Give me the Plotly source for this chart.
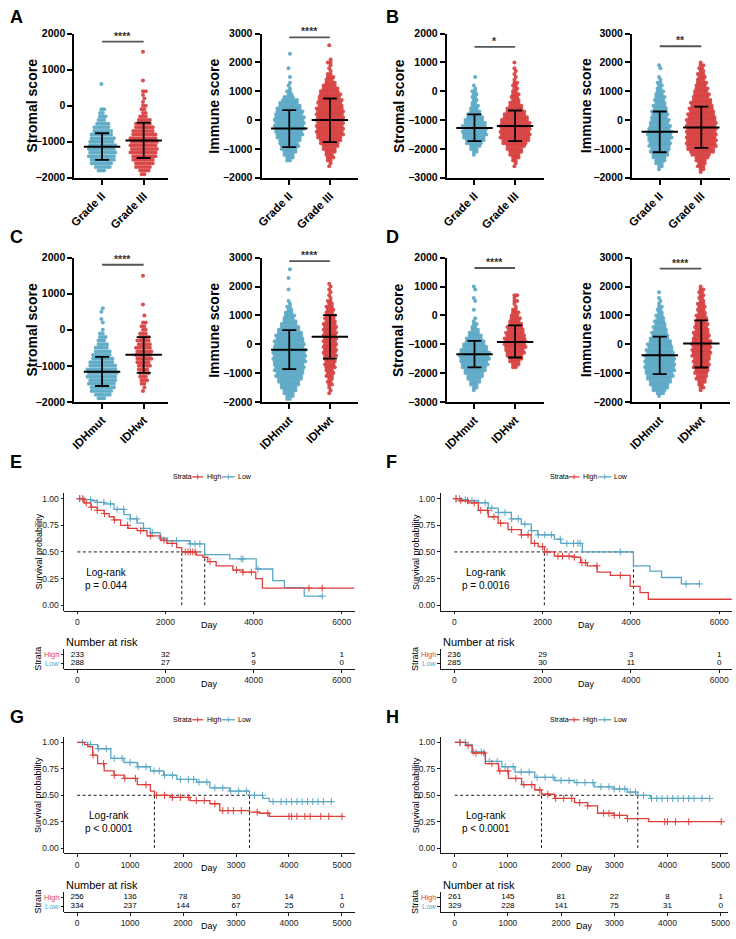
import plotly.graph_objects as go

W, H = 736, 939
FONT = "Liberation Sans"
BLUE = "#58A6C4"
RED = "#D63B3B"
KM_RED = "#DE3F3A"
KM_BLUE = "#5AA7C6"
BIN = 100          # value width of one dot row in the scatter-dot panels

# ---------------- scatter-dot panels (counts of dots per 100-unit bin) ----------------
grade_labels = ["Grade II", "Grade III"]
idh_labels = ["IDHmut", "IDHwt"]

A_stromal_g1_from = -1800
A_stromal_g1 = [3, 6, 8, 9, 10, 10, 10, 10, 9, 9, 8, 7, 6, 5, 3, 3, 2, 2, 0, 0, 0, 0, 0, 0, 1]
A_stromal_g2_from = -1900
A_stromal_g2 = [2, 4, 6, 7, 8, 9, 10, 10, 10, 10, 10, 9, 8, 7, 6, 5, 3, 2, 2, 2, 1, 1, 1, 2, 0, 0, 1, 0, 0, 0, 0, 0, 0, 0, 1]
A_stromal_mean = [-1140, -966]
A_stromal_sd_hi = [-764, -471]
A_stromal_sd_lo = [-1506, -1451]
A_stromal_sig = 1780
A_stromal_stars = "****"

A_immune_g1_from = -1400
A_immune_g1 = [2, 3, 4, 5, 6, 7, 7, 8, 9, 10, 10, 11, 11, 11, 11, 11, 10, 10, 9, 8, 7, 6, 4, 2, 2, 1, 1, 1, 0, 1, 0, 0, 1, 0, 0, 0, 0, 1]
A_immune_g2_from = -1600
A_immune_g2 = [1, 1, 2, 3, 3, 4, 5, 6, 7, 8, 9, 10, 10, 10, 10, 10, 10, 10, 10, 10, 10, 9, 9, 9, 8, 8, 7, 6, 5, 4, 3, 3, 2, 1, 1, 1, 2, 1, 0, 0, 0, 0, 1]
A_immune_mean = [-287, 0]
A_immune_sd_hi = [345, 750]
A_immune_sd_lo = [-940, -760]
A_immune_sig = 2870
A_immune_stars = "****"

B_stromal_g1_from = -2200
B_stromal_g1 = [1, 2, 3, 4, 6, 7, 8, 9, 9, 9, 9, 8, 7, 6, 5, 4, 3, 3, 2, 2, 2, 2, 2, 1, 1, 0, 0, 1]
B_stromal_g2_from = -2600
B_stromal_g2 = [1, 1, 2, 3, 4, 5, 6, 7, 9, 10, 11, 11, 11, 11, 11, 11, 10, 9, 8, 7, 6, 5, 4, 3, 3, 3, 2, 2, 2, 2, 1, 1, 1, 1, 1, 0, 1]
B_stromal_mean = [-1272, -1204]
B_stromal_sd_hi = [-803, -666]
B_stromal_sd_lo = [-1730, -1730]
B_stromal_sig = 1542
B_stromal_stars = "*"

B_immune_g1_from = -1700
B_immune_g1 = [1, 2, 3, 4, 5, 6, 7, 7, 8, 8, 8, 9, 9, 9, 8, 8, 7, 7, 6, 6, 6, 5, 5, 4, 4, 4, 3, 3, 2, 2, 2, 1, 1, 0, 0, 1, 1]
B_immune_g2_from = -1800
B_immune_g2 = [1, 2, 3, 3, 4, 5, 7, 9, 10, 11, 11, 11, 11, 11, 11, 11, 11, 11, 11, 10, 10, 9, 9, 8, 8, 7, 6, 6, 5, 5, 4, 4, 3, 3, 3, 2, 2, 2, 1]
B_immune_mean = [-402, -253]
B_immune_sd_hi = [299, 471]
B_immune_sd_lo = [-1115, -966]
B_immune_sig = 2563
B_immune_stars = "**"

C_stromal_g1_from = -1900
C_stromal_g1 = [3, 6, 8, 9, 10, 10, 11, 11, 11, 10, 9, 8, 7, 6, 5, 4, 3, 3, 2, 1, 0, 1, 1, 0, 1, 1]
C_stromal_g2_from = -1700
C_stromal_g2 = [1, 1, 2, 3, 3, 4, 4, 5, 5, 6, 6, 6, 6, 5, 5, 4, 3, 2, 2, 2, 0, 1, 0, 0, 1, 0, 0, 0, 0, 0, 0, 0, 1]
C_stromal_mean = [-1167, -694]
C_stromal_sd_hi = [-750, -204]
C_stromal_sd_lo = [-1560, -1194]
C_stromal_sig = 1805
C_stromal_stars = "****"

C_immune_g1_from = -1900
C_immune_g1 = [2, 3, 4, 5, 6, 7, 8, 9, 10, 10, 11, 11, 11, 12, 12, 12, 12, 12, 11, 11, 11, 10, 10, 9, 8, 7, 6, 5, 4, 4, 3, 2, 2, 1, 1, 0, 0, 0, 1, 0, 0, 0, 1, 0, 0, 1]
C_immune_g2_from = -1700
C_immune_g2 = [1, 1, 1, 2, 2, 2, 3, 3, 3, 4, 4, 4, 4, 5, 5, 5, 5, 5, 5, 5, 5, 5, 5, 5, 5, 4, 4, 4, 3, 3, 3, 2, 2, 1, 1, 1, 1, 1, 1]
C_immune_mean = [-193, 261]
C_immune_sd_hi = [489, 1011]
C_immune_sd_lo = [-864, -500]
C_immune_sig = 2886
C_immune_stars = "****"

D_stromal_g1_from = -2600
D_stromal_g1 = [1, 2, 3, 4, 5, 6, 7, 8, 9, 10, 10, 11, 11, 11, 10, 9, 8, 7, 6, 5, 4, 3, 2, 2, 1, 1, 0, 0, 1, 0, 0, 1, 1, 0, 0, 1, 1]
D_stromal_g2_from = -1800
D_stromal_g2 = [2, 3, 4, 5, 6, 7, 7, 8, 8, 8, 8, 7, 7, 6, 6, 5, 4, 4, 3, 3, 2, 1, 1, 2, 1, 2]
D_stromal_mean = [-1345, -920]
D_stromal_sd_hi = [-885, -345]
D_stromal_sd_lo = [-1805, -1460]
D_stromal_sig = 1644
D_stromal_stars = "****"

D_immune_g1_from = -1800
D_immune_g1 = [1, 3, 5, 6, 7, 8, 9, 10, 10, 11, 11, 11, 11, 11, 11, 10, 10, 9, 9, 8, 7, 6, 6, 5, 5, 4, 4, 3, 3, 2, 2, 2, 1, 1, 1, 0, 1]
D_immune_g2_from = -1600
D_immune_g2 = [1, 2, 2, 3, 4, 4, 5, 5, 6, 6, 6, 6, 7, 7, 7, 7, 7, 7, 6, 6, 6, 5, 5, 5, 4, 4, 4, 3, 3, 3, 3, 2, 2, 2, 2, 2, 1]
D_immune_mean = [-386, 23]
D_immune_sd_hi = [261, 830]
D_immune_sd_lo = [-1034, -807]
D_immune_sig = 2625
D_immune_stars = "****"

# ---------------- Kaplan-Meier panels (step times / survival) ----------------
E_high_t = [0, 150, 307, 450, 607, 720, 831, 980, 1150, 1357, 1580, 1880, 2030, 2255, 2370, 2700, 2850, 2960, 3150, 3530, 3750, 4050, 4200, 6290]
E_high_s = [1.0, 0.96, 0.92, 0.89, 0.86, 0.83, 0.80, 0.75, 0.72, 0.70, 0.65, 0.61, 0.58, 0.54, 0.50, 0.47, 0.45, 0.41, 0.37, 0.33, 0.31, 0.25, 0.16, 0.16]
E_low_t = [0, 150, 307, 450, 607, 831, 1057, 1200, 1357, 1500, 1657, 1880, 2030, 2550, 2890, 3460, 4060, 4435, 4700, 5150, 5570]
E_low_s = [1.0, 0.99, 0.98, 0.965, 0.95, 0.90, 0.85, 0.81, 0.77, 0.72, 0.68, 0.63, 0.605, 0.575, 0.475, 0.435, 0.34, 0.23, 0.165, 0.085, 0.085]
E_high_cens = [52, 120, 200, 315, 450, 614, 839, 1139, 1438, 1663, 1963, 2150, 2449, 2510, 2562, 2620, 2674, 3011, 3611, 3760, 3948, 5258, 5558]
E_low_cens = [52, 150, 300, 450, 600, 750, 900, 1050, 1200, 1350, 1500, 1700, 1900, 2050, 2250, 2560, 2670, 2780, 3720, 3760, 4100, 5560]
E_medians = [2370, 2890]
E_p = "Log-rank<br>p = 0.044"
E_risk_t = [0, 2000, 4000, 6000]
E_risk_high = [233, 32, 5, 1]
E_risk_low = [288, 27, 9, 0]

F_high_t = [0, 150, 321, 545, 770, 994, 1218, 1517, 1741, 1900, 2040, 2265, 2713, 2862, 3012, 3236, 3535, 3984, 4208, 4395, 6285]
F_high_s = [1.0, 0.98, 0.96, 0.89, 0.83, 0.77, 0.71, 0.66, 0.58, 0.55, 0.50, 0.46, 0.45, 0.40, 0.37, 0.31, 0.28, 0.177, 0.118, 0.056, 0.056]
F_low_t = [0, 150, 321, 545, 770, 994, 1293, 1517, 1741, 1891, 2265, 2414, 2900, 4058, 4432, 4694, 5142, 5553]
F_low_s = [1.0, 0.99, 0.98, 0.96, 0.91, 0.87, 0.81, 0.76, 0.70, 0.66, 0.62, 0.58, 0.50, 0.37, 0.32, 0.26, 0.20, 0.20]
F_high_cens = [40, 150, 300, 450, 600, 750, 900, 1050, 1300, 1520, 1670, 1820, 2000, 2100, 2350, 2450, 2600, 2720, 2890, 2970, 3230, 3760]
F_low_cens = [40, 120, 250, 400, 550, 700, 850, 1000, 1150, 1300, 1450, 1600, 1750, 1900, 2050, 2200, 2400, 2550, 2700, 2800, 2850, 3760, 5250, 5550]
F_medians = [2040, 4058]
F_p = "Log-rank<br>p = 0.0016"
F_risk_t = [0, 2000, 4000, 6000]
F_risk_high = [236, 29, 3, 1]
F_risk_low = [285, 30, 11, 0]

G_high_t = [0, 137, 200, 293, 387, 511, 698, 885, 1135, 1384, 1459, 1758, 2132, 2506, 2693, 3254, 3441, 3628, 5031]
G_high_s = [1.0, 0.98, 0.96, 0.88, 0.80, 0.73, 0.69, 0.66, 0.60, 0.54, 0.50, 0.48, 0.45, 0.42, 0.355, 0.34, 0.33, 0.30, 0.30]
G_low_t = [0, 200, 387, 636, 885, 1135, 1384, 1633, 1883, 2257, 2506, 2880, 3254, 3504, 3628, 4813]
G_low_s = [1.0, 0.98, 0.94, 0.85, 0.81, 0.77, 0.73, 0.69, 0.65, 0.625, 0.57, 0.54, 0.50, 0.47, 0.44, 0.44]
G_high_cens = [300, 500, 700, 900, 1100, 1300, 1500, 1650, 1800, 1950, 2100, 2250, 2400, 2600, 2750, 2850, 2950, 3100, 3400, 3600, 4000, 4050, 4150, 4300, 4400, 4600, 4750, 5000]
G_low_cens = [100, 250, 400, 550, 700, 850, 1000, 1150, 1300, 1450, 1550, 1650, 1800, 1950, 2100, 2200, 2300, 2450, 2600, 2750, 2900, 3050, 3200, 3350, 3500, 3700, 3850, 3950, 4050, 4150, 4250, 4350, 4450, 4550, 4650, 4800]
G_medians = [1459, 3254]
G_p = "Log-rank<br>p &lt; 0.0001"
G_risk_t = [0, 1000, 2000, 3000, 4000, 5000]
G_risk_high = [256, 136, 78, 30, 14, 1]
G_risk_low = [334, 237, 144, 67, 25, 0]

H_high_t = [0, 205, 329, 577, 825, 1011, 1259, 1507, 1632, 1880, 2252, 2500, 2686, 2996, 3244, 3648, 5012]
H_high_s = [1.0, 0.97, 0.90, 0.80, 0.73, 0.66, 0.60, 0.55, 0.51, 0.47, 0.43, 0.40, 0.33, 0.31, 0.28, 0.25, 0.25]
H_low_t = [0, 205, 329, 577, 887, 1135, 1507, 1880, 2252, 2624, 2996, 3244, 3443, 3679, 4795]
H_low_s = [1.0, 0.98, 0.91, 0.82, 0.77, 0.72, 0.67, 0.64, 0.62, 0.58, 0.56, 0.53, 0.50, 0.47, 0.47]
H_high_cens = [100, 250, 400, 550, 700, 850, 1000, 1150, 1300, 1450, 1600, 1750, 1900, 2050, 2200, 2350, 2500, 2800, 2900, 3000, 3100, 3250, 3950, 4000, 4150, 4400, 5012]
H_low_cens = [100, 200, 350, 500, 650, 800, 950, 1100, 1250, 1400, 1550, 1700, 1850, 2000, 2150, 2300, 2450, 2600, 2750, 2900, 3000, 3100, 3200, 3300, 3400, 3550, 3700, 3800, 3900, 4000, 4100, 4200, 4300, 4400, 4500, 4650, 4795]
H_medians = [1632, 3443]
H_p = "Log-rank<br>p &lt; 0.0001"
H_risk_t = [0, 1000, 2000, 3000, 4000, 5000]
H_risk_high = [261, 145, 81, 22, 8, 1]
H_risk_low = [329, 228, 141, 75, 31, 0]

# ---------------- layout helpers ----------------
fig = go.Figure()
layout = {}
annotations = []
shapes = []
_n = [0]


def px(p):
    return p / W


def py(p):
    return 1 - p / H


def add_axes(xdom, ydom, xa, ya):
    _n[0] += 1
    s = "" if _n[0] == 1 else str(_n[0])
    xa.update(domain=[px(xdom[0]), px(xdom[1])], anchor="y" + s, showgrid=False, zeroline=False, fixedrange=True)
    ya.update(domain=[py(ydom[1]), py(ydom[0])], anchor="x" + s, showgrid=False, zeroline=False, fixedrange=True)
    layout["xaxis" + s] = xa
    layout["yaxis" + s] = ya
    return "x" + s, "y" + s


def text(x, y, t, size, color="black", bold=False, xanchor="center", yanchor="middle", angle=0, xref="paper", yref="paper", yshift=0):
    f = dict(family=FONT, size=size, color=color)
    if bold:
        f["weight"] = "bold"
    annotations.append(dict(x=x, y=y, xref=xref, yref=yref, text=t, showarrow=False, xanchor=xanchor,
                            yanchor=yanchor, textangle=angle, font=f, yshift=yshift))


# pixel geometry of the dot panels: (axis left, axis right, group1 x, group2 x, title x)
DOT_COLS = [(70, 165, 98, 140, 27), (259, 356, 287, 328, 211), (446, 544, 474, 515, 397), (633, 732, 661, 703, 586)]
DOT_ROWS = [(28, 174), (255, 401)]
DOT_GAP = 2.8


def dot_panel(col, row, yrange, ytitle, labels, g1_from, g1, g2_from, g2, mean, hi, lo, sig, stars):
    left, right, c1, c2, tx = DOT_COLS[col]
    top, bottom = DOT_ROWS[row]
    ppu = c2 - c1
    r0 = 1 - (c1 - left) / ppu
    r1 = r0 + (right - left) / ppu
    bold_tick = dict(family=FONT, size=10.5, color="black", weight="bold")
    xa = dict(range=[r0, r1], showline=True, linewidth=2, linecolor="black", ticks="outside", ticklen=5,
              tickwidth=2, tickcolor="black", tickvals=[1, 2], ticktext=labels, tickangle=-45,
              tickfont=dict(family=FONT, size=11.5, color="black", weight="bold"))
    ya = dict(range=yrange, showline=True, linewidth=2, linecolor="black", ticks="outside", ticklen=5,
              tickwidth=2, tickcolor="black", dtick=1000, tick0=0, tickfont=bold_tick)
    xr, yr = add_axes((left, right), (top, bottom), xa, ya)
    for center, start, counts, color in ((1, g1_from, g1, BLUE), (2, g2_from, g2, RED)):
        xs, ys = [], []
        for i, n in enumerate(counts):
            v = start + BIN * i
            stagger = 0.25 * DOT_GAP if i % 2 else -0.25 * DOT_GAP
            for k in range(n):
                xs.append(center + ((k - (n - 1) / 2) * DOT_GAP + stagger) / ppu)
                ys.append(v)
        fig.add_trace(go.Scatter(x=xs, y=ys, mode="markers", xaxis=xr, yaxis=yr, hoverinfo="skip",
                                 marker=dict(size=4.0, color=color, opacity=0.9, line_width=0)))
    fig.add_trace(go.Scatter(
        x=[1, 2], y=mean, mode="markers", xaxis=xr, yaxis=yr, hoverinfo="skip",
        marker=dict(symbol="line-ew-open", size=26, color="black", line=dict(width=2, color="black")),
        error_y=dict(type="data", symmetric=False, array=[h - m for h, m in zip(hi, mean)],
                     arrayminus=[m - l for m, l in zip(mean, lo)], width=7, thickness=1.8, color="black")))
    fig.add_trace(go.Scatter(x=[1, 2], y=[sig, sig], mode="lines", xaxis=xr, yaxis=yr, hoverinfo="skip",
                             line=dict(color="#555555", width=1.8)))
    text(1.5, sig, stars, 10.5, color="#333333", bold=True, xref=xr, yref=yr, yanchor="middle", yshift=6)
    text(px(tx), py((top + bottom) / 2), ytitle, 14, bold=True, angle=-90)


dot_panel(0, 0, [-2000, 2000], "Stromal score", grade_labels, A_stromal_g1_from, A_stromal_g1, A_stromal_g2_from,
          A_stromal_g2, A_stromal_mean, A_stromal_sd_hi, A_stromal_sd_lo, A_stromal_sig, A_stromal_stars)
dot_panel(1, 0, [-2000, 3000], "Immune score", grade_labels, A_immune_g1_from, A_immune_g1, A_immune_g2_from,
          A_immune_g2, A_immune_mean, A_immune_sd_hi, A_immune_sd_lo, A_immune_sig, A_immune_stars)
dot_panel(2, 0, [-3000, 2000], "Stromal score", grade_labels, B_stromal_g1_from, B_stromal_g1, B_stromal_g2_from,
          B_stromal_g2, B_stromal_mean, B_stromal_sd_hi, B_stromal_sd_lo, B_stromal_sig, B_stromal_stars)
dot_panel(3, 0, [-2000, 3000], "Immune score", grade_labels, B_immune_g1_from, B_immune_g1, B_immune_g2_from,
          B_immune_g2, B_immune_mean, B_immune_sd_hi, B_immune_sd_lo, B_immune_sig, B_immune_stars)
dot_panel(0, 1, [-2000, 2000], "Stromal score", idh_labels, C_stromal_g1_from, C_stromal_g1, C_stromal_g2_from,
          C_stromal_g2, C_stromal_mean, C_stromal_sd_hi, C_stromal_sd_lo, C_stromal_sig, C_stromal_stars)
dot_panel(1, 1, [-2000, 3000], "Immune score", idh_labels, C_immune_g1_from, C_immune_g1, C_immune_g2_from,
          C_immune_g2, C_immune_mean, C_immune_sd_hi, C_immune_sd_lo, C_immune_sig, C_immune_stars)
dot_panel(2, 1, [-3000, 2000], "Stromal score", idh_labels, D_stromal_g1_from, D_stromal_g1, D_stromal_g2_from,
          D_stromal_g2, D_stromal_mean, D_stromal_sd_hi, D_stromal_sd_lo, D_stromal_sig, D_stromal_stars)
dot_panel(3, 1, [-2000, 3000], "Immune score", idh_labels, D_immune_g1_from, D_immune_g1, D_immune_g2_from,
          D_immune_g2, D_immune_mean, D_immune_sd_hi, D_immune_sd_lo, D_immune_sig, D_immune_stars)


# ---------------- Kaplan-Meier panels ----------------
def surv_at(ts, ss, t):
    v = ss[0]
    for a, b in zip(ts, ss):
        if a <= t:
            v = b
        else:
            break
    return v


def km_panel(x0, x1, top, bottom, xrange, dtick, high_t, high_s, low_t, low_s, high_c, low_c, medians, ptext,
             legend_y, rows_y, risk_t, risk_high, risk_low, title_x):
    small = dict(family=FONT, size=8.5, color="#222222")
    xa = dict(range=xrange, showline=True, linewidth=0.9, linecolor="black", ticks="outside", ticklen=3,
              tickwidth=0.9, tickcolor="black", dtick=dtick, tick0=0, tickfont=small)
    ya = dict(range=[-0.05, 1.05], showline=True, linewidth=0.9, linecolor="black", ticks="outside", ticklen=3,
              tickwidth=0.9, tickcolor="black", tickvals=[0, 0.25, 0.5, 0.75, 1],
              ticktext=["0.00", "0.25", "0.50", "0.75", "1.00"], tickfont=small)
    xr, yr = add_axes((x0, x1), (top, bottom), xa, ya)
    mline = dict(color="black", width=0.9, dash="3px,2.5px")
    fig.add_trace(go.Scatter(x=[0, max(medians)], y=[0.5, 0.5], mode="lines", line=mline, xaxis=xr, yaxis=yr,
                             hoverinfo="skip"))
    for m in medians:
        fig.add_trace(go.Scatter(x=[m, m], y=[0, 0.5], mode="lines", line=mline, xaxis=xr, yaxis=yr,
                                 hoverinfo="skip"))
    for ts, ss, cs, color in ((low_t, low_s, low_c, KM_BLUE), (high_t, high_s, high_c, KM_RED)):
        fig.add_trace(go.Scatter(x=ts, y=ss, mode="lines", line=dict(color=color, width=1.3, shape="hv"),
                                 xaxis=xr, yaxis=yr, hoverinfo="skip"))
        fig.add_trace(go.Scatter(x=cs, y=[surv_at(ts, ss, c) for c in cs], mode="markers", xaxis=xr, yaxis=yr,
                                 hoverinfo="skip",
                                 marker=dict(symbol="cross-thin", size=5, color=color, line=dict(width=1, color=color))))
    mid = (x0 + x1) / 2
    text(px(title_x), py((top + bottom) / 2), "Survival probability", 9, angle=-90)
    text(px(mid), py(bottom + 15), "Day", 9)
    text(px(x0 + 19), py(bottom - 32), ptext, 10, xanchor="left")
    # legend
    lx = x0 + 108
    text(px(lx), py(legend_y), "Strata", 7, xanchor="left")
    for (a, b, tx, lab, col) in ((lx + 21, lx + 32, lx + 34, "High", KM_RED), (lx + 51, lx + 64, lx + 65, "Low", KM_BLUE)):
        shapes.append(dict(type="line", xref="paper", yref="paper", x0=px(a), x1=px(b), y0=py(legend_y),
                           y1=py(legend_y), line=dict(color=col, width=1.3)))
        shapes.append(dict(type="line", xref="paper", yref="paper", x0=px((a + b) / 2), x1=px((a + b) / 2),
                           y0=py(legend_y - 2.5), y1=py(legend_y + 2.5), line=dict(color=col, width=1)))
        text(px(tx), py(legend_y), lab, 7, xanchor="left")
    # risk table
    r_high, r_low = rows_y
    xa2 = dict(range=xrange, showline=True, linewidth=0.9, linecolor="black", ticks="outside", ticklen=3,
               tickwidth=0.9, tickcolor="black", dtick=dtick, tick0=0, tickfont=small)
    ya2 = dict(range=[0.4, 2.6], showline=True, linewidth=0.9, linecolor="black", ticks="outside", ticklen=2.5,
               tickwidth=0.9, tickcolor="black", tickvals=[1, 2], showticklabels=False)
    xr2, yr2 = add_axes((x0, x1), (r_high - 0.6 * (r_low - r_high), r_low + 0.6 * (r_low - r_high)), xa2, ya2)
    for vals, yv in ((risk_high, 2), (risk_low, 1)):
        fig.add_trace(go.Scatter(x=risk_t, y=[yv] * len(risk_t), mode="text", text=[str(v) for v in vals],
                                 textfont=dict(family=FONT, size=8, color="black"), xaxis=xr2, yaxis=yr2,
                                 hoverinfo="skip"))
    tbl_bottom = r_low + 0.6 * (r_low - r_high)
    text(px(x0), py(r_high - 13), "Number at risk", 11, xanchor="left")
    text(px(x0 - 3), py(r_high), "High", 7.5, color=KM_RED, xanchor="right")
    text(px(x0 - 3), py(r_low), "Low", 7.5, color=KM_BLUE, xanchor="right")
    text(px(title_x - 1), py((r_high + r_low) / 2), "Strata", 9, angle=-90)
    text(px(mid), py(tbl_bottom + 15), "Day", 9)


km_panel(60, 353, 493.6, 612.4, [-295, 6295], 2000, E_high_t, E_high_s, E_low_t, E_low_s, E_high_cens, E_low_cens,
         E_medians, E_p, 477, (657, 666), E_risk_t, E_risk_high, E_risk_low, 34)
km_panel(440, 734, 493.6, 612.4, [-305, 6290], 2000, F_high_t, F_high_s, F_low_t, F_low_s, F_high_cens, F_low_cens,
         F_medians, F_p, 477, (657, 666), F_risk_t, F_risk_high, F_risk_low, 415)
km_panel(60, 353, 740.6, 858.4, [-240, 5240], 1000, G_high_t, G_high_s, G_low_t, G_low_s, G_high_cens, G_low_cens,
         G_medians, G_p, 723, (903, 912), G_risk_t, G_risk_high, G_risk_low, 34)
km_panel(440, 730, 740.6, 858.4, [-261, 5140], 1000, H_high_t, H_high_s, H_low_t, H_low_s, H_high_cens, H_low_cens,
         H_medians, H_p, 723, (903, 912), H_risk_t, H_risk_high, H_risk_low, 415)

# panel letters
for letter, xl, yl in (("A", 3, 11), ("B", 383, 11), ("C", 3, 234), ("D", 383, 234),
                       ("E", 3, 462), ("F", 383, 462), ("G", 3, 720), ("H", 383, 720)):
    text(px(xl), py(yl), letter, 18, bold=True, xanchor="left")

fig.update_layout(width=W, height=H, autosize=False, margin=dict(l=0, r=0, t=0, b=0), showlegend=False,
                  plot_bgcolor="white", paper_bgcolor="white", annotations=annotations, shapes=shapes,
                  font=dict(family=FONT), **layout)
fig.update_traces(cliponaxis=False, selector=dict(type="scatter"))
fig.write_html("out.html", config={"staticPlot": True},
               post_script="document.body.style.margin='0px';document.body.style.padding='0px';")
